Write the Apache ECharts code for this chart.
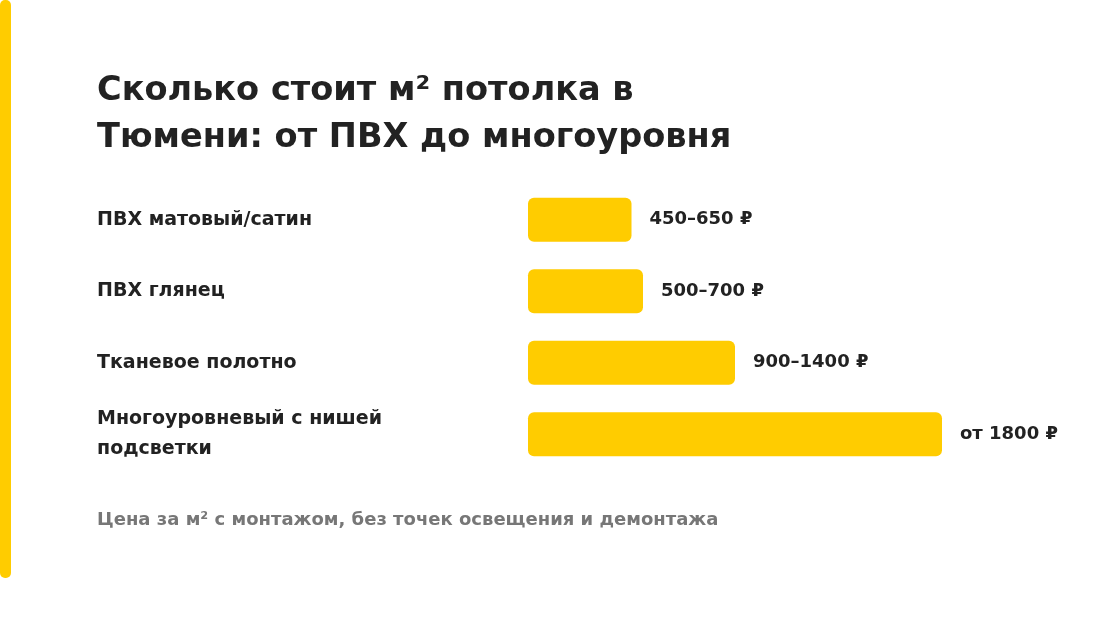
<!DOCTYPE html>
<html>
<head>
<meta charset="utf-8">
<script src="https://cdn.jsdelivr.net/npm/echarts@6/dist/echarts.min.js"></script>
<style>
  html, body { margin: 0; padding: 0; background: #fff; }
  #chart { width: 1100px; height: 621px; }
</style>
</head>
<body>
<div id="chart"></div>
<script>
// категории (сверху вниз)
const categories = [
  'ПВХ матовый/сатин',
  'ПВХ глянец',
  'Тканевое полотно',
  'Многоуровневый с нишей\nподсветки'
];
// нижняя граница цены, по ней длина полосы
const priceFrom = [450, 500, 900, 1800];
// подписи справа от полос
const priceLabels = ['450–650 ₽', '500–700 ₽', '900–1400 ₽', 'от 1800 ₽'];

const font = '"DejaVu Sans", sans-serif';
const yellow = '#FFCC00';

const option = {
  backgroundColor: '#fff',
  animation: false,
  textStyle: { fontFamily: font },
  title: [
    {
      text: 'Сколько стоит м² потолка в\nТюмени: от ПВХ до многоуровня',
      left: 92,
      top: 63,
      textStyle: {
        fontFamily: font,
        fontSize: 33.6,
        fontWeight: 'bold',
        color: '#222',
        lineHeight: 47
      }
    },
    {
      text: 'Цена за м² с монтажом, без точек освещения и демонтажа',
      left: 92,
      top: 506,
      textStyle: {
        fontFamily: font,
        fontSize: 18,
        fontWeight: 'bold',
        color: '#777'
      }
    }
  ],
  graphic: [
    {
      type: 'rect',
      left: 0,
      top: 0,
      shape: { width: 11, height: 578, r: 5 },
      style: { fill: yellow }
    }
  ],
  grid: {
    left: 528,
    right: 112,
    top: 184,
    bottom: 151,
    containLabel: false
  },
  xAxis: {
    type: 'value',
    min: 0,
    max: 2000,
    show: false
  },
  yAxis: {
    type: 'category',
    inverse: true,
    data: categories,
    axisLine: { show: false },
    axisTick: { show: false },
    splitLine: { show: false },
    axisLabel: {
      align: 'left',
      margin: 431,
      fontFamily: font,
      fontSize: 19,
      fontWeight: 'bold',
      color: '#222',
      lineHeight: 30
    }
  },
  series: [
    {
      type: 'bar',
      data: priceFrom,
      barWidth: 44,
      itemStyle: {
        color: yellow,
        borderRadius: 6
      },
      label: {
        show: true,
        position: 'right',
        distance: 18,
        fontFamily: font,
        fontSize: 18,
        fontWeight: 'bold',
        color: '#222',
        formatter: function (p) {
          return priceLabels[p.dataIndex];
        }
      }
    }
  ]
};

const myChart = echarts.init(document.getElementById('chart'));
myChart.setOption(option);
</script>
</body>
</html>
